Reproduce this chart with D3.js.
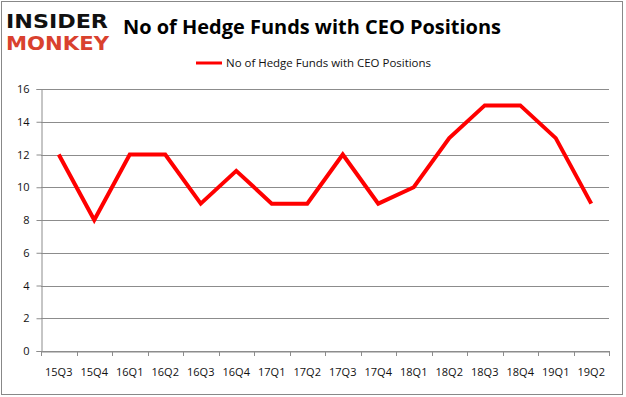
<!DOCTYPE html>
<html>
<head>
<meta charset="utf-8">
<script src="https://cdn.jsdelivr.net/npm/d3@7"></script>
<style>
  body { margin: 0; background: #fff; }
  svg text { font-family: "Open Sans", "DejaVu Sans", sans-serif; }
</style>
</head>
<body>
<div id="chart"></div>
<script>
const quarters = ['15Q3', '15Q4', '16Q1', '16Q2', '16Q3', '16Q4', '17Q1', '17Q2',
  '17Q3', '17Q4', '18Q1', '18Q2', '18Q3', '18Q4', '19Q1', '19Q2'];
const funds = [12, 8, 12, 12, 9, 11, 9, 9, 12, 9, 10, 13, 15, 15, 13, 9];
const yTicks = [0, 2, 4, 6, 8, 10, 12, 14, 16];
const seriesName = 'No of Hedge Funds with CEO Positions';

const width = 626, height = 397;
const margin = { top: 89, right: 17, bottom: 46, left: 41 };
const innerW = width - margin.left - margin.right;
const innerH = height - margin.top - margin.bottom;

const svg = d3.select('#chart').append('svg')
  .attr('width', width)
  .attr('height', height);

// outer border
svg.append('rect')
  .attr('x', 1.5).attr('y', 1.5)
  .attr('width', width - 5).attr('height', height - 4)
  .attr('fill', 'none').attr('stroke', '#888').attr('stroke-width', 1);

// logo
svg.append('text')
  .attr('x', 6).attr('y', 28)
  .attr('textLength', 102).attr('lengthAdjust', 'spacingAndGlyphs')
  .style('font-family', '"DejaVu Sans", sans-serif')
  .style('font-weight', 'bold').style('font-size', '20px')
  .attr('fill', '#111').text('INSIDER');
svg.append('text')
  .attr('x', 6).attr('y', 50)
  .attr('textLength', 103).attr('lengthAdjust', 'spacingAndGlyphs')
  .style('font-family', '"DejaVu Sans", sans-serif')
  .style('font-weight', 'bold').style('font-size', '20px')
  .attr('fill', '#d9412e').text('MONKEY');

// title
svg.append('text')
  .attr('x', 123).attr('y', 34)
  .attr('textLength', 378).attr('lengthAdjust', 'spacingAndGlyphs')
  .style('font-weight', 'bold').style('font-size', '20px')
  .attr('fill', '#000').text(seriesName);

// legend
svg.append('line')
  .attr('x1', 196).attr('x2', 222).attr('y1', 63).attr('y2', 63)
  .attr('stroke', '#ff0000').attr('stroke-width', 3);
svg.append('text')
  .attr('x', 226).attr('y', 67)
  .attr('textLength', 205).attr('lengthAdjust', 'spacingAndGlyphs')
  .style('font-size', '11px').attr('fill', '#111').text(seriesName);

const g = svg.append('g')
  .attr('transform', `translate(${margin.left}, ${margin.top})`);

const x = d3.scaleBand()
  .domain(quarters)
  .range([0, innerW]);

const y = d3.scaleLinear()
  .domain([0, 16])
  .range([innerH, 0]);

// gridlines
g.append('g')
  .selectAll('line')
  .data(yTicks)
  .enter()
  .append('line')
  .attr('x1', 0).attr('x2', innerW)
  .attr('y1', d => Math.round(y(d)) + 0.5)
  .attr('y2', d => Math.round(y(d)) + 0.5)
  .attr('stroke', '#8c8c8c').attr('stroke-width', 1);

// y axis
const yAxis = g.append('g')
  .attr('transform', 'translate(0.5, 0)')
  .call(d3.axisLeft(y).tickValues(yTicks).tickSize(5).tickPadding(7).tickFormat(d3.format('d')));
yAxis.selectAll('path, line').attr('stroke', '#8c8c8c');
yAxis.selectAll('text').style('font-size', '11px').attr('fill', '#111');

// x axis
const xAxis = g.append('g')
  .attr('transform', `translate(0, ${Math.round(innerH) + 0.5})`)
  .call(d3.axisBottom(x).tickSize(0).tickPadding(17));
xAxis.select('.domain').attr('stroke', '#8c8c8c');
xAxis.selectAll('text').style('font-size', '11px').attr('fill', '#111');
g.append('g')
  .selectAll('line')
  .data(quarters.concat(['end']))
  .enter()
  .append('line')
  .attr('x1', (d, i) => Math.round(i * x.step()) + 0.5)
  .attr('x2', (d, i) => Math.round(i * x.step()) + 0.5)
  .attr('y1', innerH).attr('y2', innerH + 5)
  .attr('stroke', '#8c8c8c');

// series line
const line = d3.line()
  .x((d, i) => x(quarters[i]) + x.bandwidth() / 2)
  .y(d => y(d));

g.append('path')
  .datum(funds)
  .attr('d', line)
  .attr('fill', 'none')
  .attr('stroke', '#ff0000')
  .attr('stroke-width', 4)
  .attr('stroke-linejoin', 'miter')
  .attr('stroke-miterlimit', 4);
</script>
</body>
</html>
